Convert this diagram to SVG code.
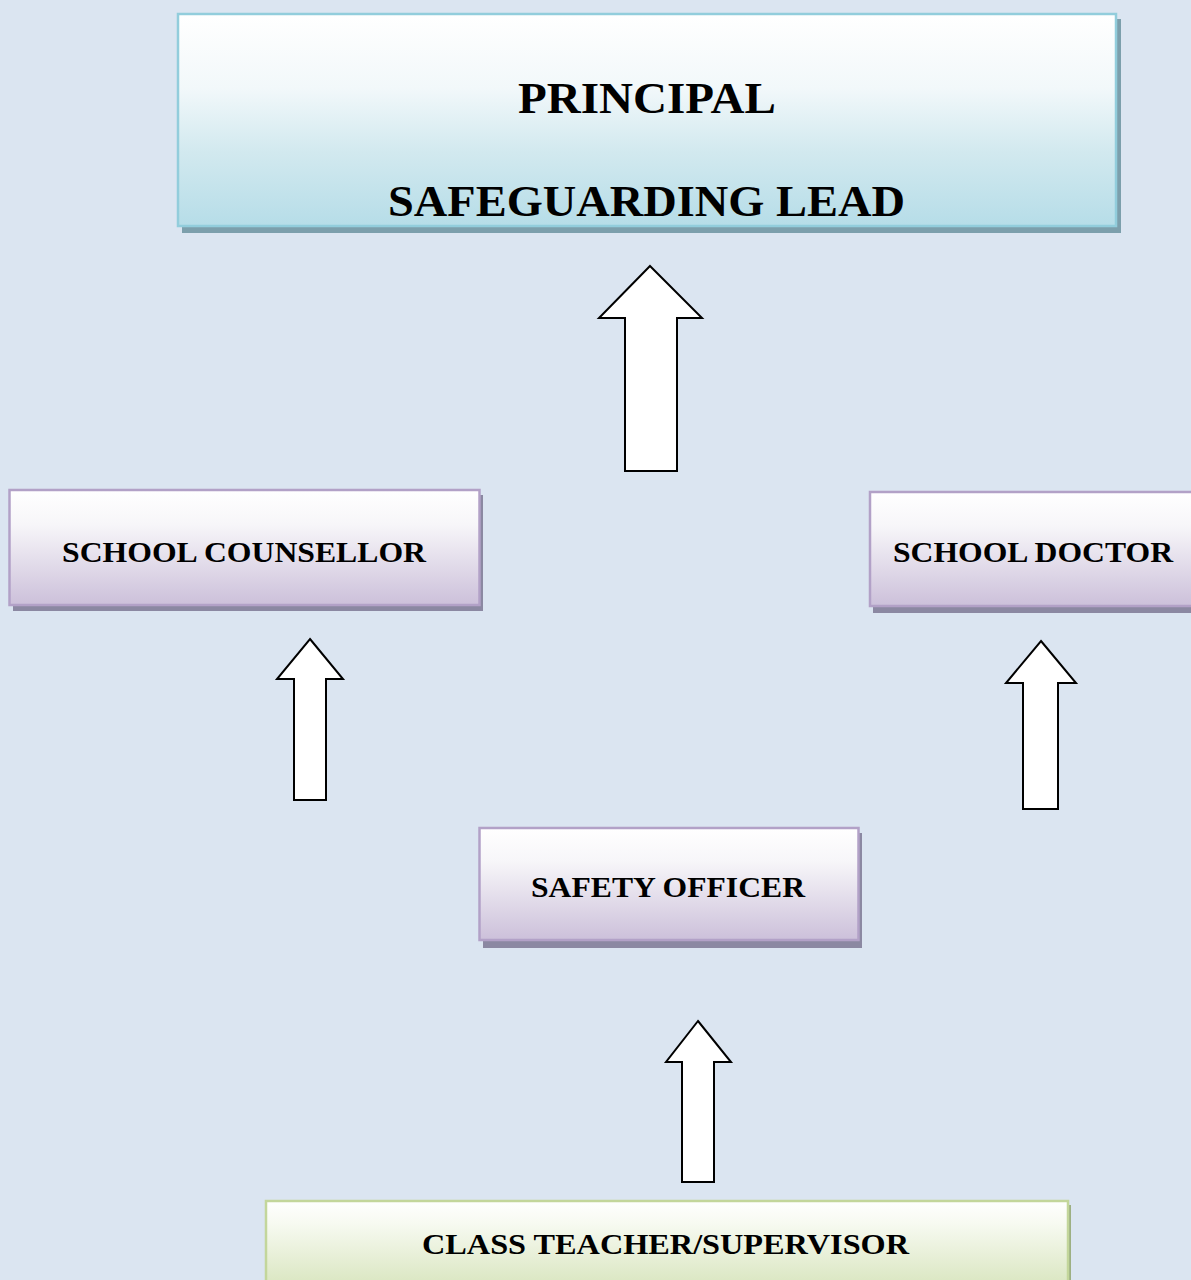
<svg xmlns="http://www.w3.org/2000/svg" width="1191" height="1280" viewBox="0 0 1191 1280">
<defs>
<linearGradient id="gBlue" x1="0" y1="0" x2="0" y2="1">
<stop offset="0" stop-color="#ffffff"/><stop offset="0.35" stop-color="#f2f8fa"/><stop offset="0.65" stop-color="#d2e9ef"/><stop offset="1" stop-color="#b6dde8"/>
</linearGradient>
<linearGradient id="gPurple" x1="0" y1="0" x2="0" y2="1">
<stop offset="0" stop-color="#ffffff"/><stop offset="0.3" stop-color="#f7f6f9"/><stop offset="1" stop-color="#ccc0da"/>
</linearGradient>
<linearGradient id="gGreen" x1="0" y1="0" x2="0" y2="1">
<stop offset="0" stop-color="#ffffff"/><stop offset="0.25" stop-color="#f7faf1"/><stop offset="1" stop-color="#d7e4bc"/>
</linearGradient>
<style>
.lbl{font-family:"Liberation Serif","Times New Roman",serif;font-weight:bold;fill:#000}
.big{font-size:45px}
.small{font-size:29px}
.arrow{fill:#ffffff;stroke:#000;stroke-width:2;stroke-linejoin:miter}
.shB{fill:#7c9fac}
.shP{fill:#8b88a2}
.shG{fill:#9db083}
</style>
</defs>
<rect width="1191" height="1280" fill="#dbe5f1"/>

<g id="principal">
<rect class="shB" x="182" y="19" width="939" height="214"/>
<rect x="178" y="14" width="938" height="212" fill="url(#gBlue)" stroke="#92cddc" stroke-width="2.5"/>
<text class="lbl big" x="518" y="113" textLength="258" lengthAdjust="spacingAndGlyphs">PRINCIPAL</text>
<text class="lbl big" x="388" y="216" textLength="517" lengthAdjust="spacingAndGlyphs">SAFEGUARDING LEAD</text>
</g>

<g id="counsellor">
<rect class="shP" x="13" y="495" width="470" height="116"/>
<rect x="9.5" y="490" width="470" height="115" fill="url(#gPurple)" stroke="#b2a1c7" stroke-width="2.5"/>
<text class="lbl small" x="62" y="562" textLength="364" lengthAdjust="spacingAndGlyphs">SCHOOL COUNSELLOR</text>
</g>

<g id="doctor">
<rect class="shP" x="873" y="497" width="340" height="116"/>
<rect x="870" y="492" width="340" height="114" fill="url(#gPurple)" stroke="#b2a1c7" stroke-width="2.5"/>
<text class="lbl small" x="893" y="562" textLength="280" lengthAdjust="spacingAndGlyphs">SCHOOL DOCTOR</text>
</g>

<g id="safety">
<rect class="shP" x="483" y="833" width="379" height="115"/>
<rect x="479.5" y="828" width="379" height="112" fill="url(#gPurple)" stroke="#b2a1c7" stroke-width="2.5"/>
<text class="lbl small" x="531" y="897" textLength="274" lengthAdjust="spacingAndGlyphs">SAFETY OFFICER</text>
</g>

<g id="teacher">
<rect class="shG" x="269" y="1205" width="802" height="90"/>
<rect x="266" y="1201" width="802" height="90" fill="url(#gGreen)" stroke="#c3d69b" stroke-width="2.5"/>
<text class="lbl small" x="422" y="1254" textLength="487" lengthAdjust="spacingAndGlyphs">CLASS TEACHER/SUPERVISOR</text>
</g>

<g id="connectors">
<polygon class="arrow" points="650,266 702,318 677,318 677,471 625,471 625,318 599,318"/>
<polygon class="arrow" points="310,639 343,679 326,679 326,800 294,800 294,679 277,679"/>
<polygon class="arrow" points="1041,641 1076,683 1058,683 1058,809 1023,809 1023,683 1006,683"/>
<polygon class="arrow" points="698,1021 731,1062 714,1062 714,1182 682,1182 682,1062 666,1062"/>
</g>
</svg>
